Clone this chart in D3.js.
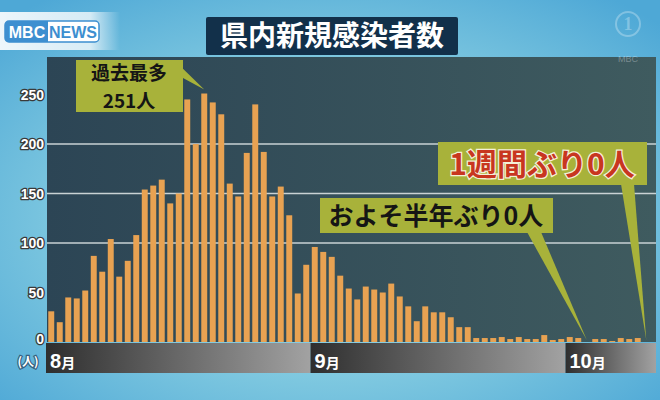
<!DOCTYPE html>
<html><head><meta charset="utf-8">
<script src="https://cdn.jsdelivr.net/npm/d3@7"></script>
<style>
html,body{margin:0;padding:0;background:#6cc0dc;}
svg{display:block;}
</style></head><body>
<svg id="c" width="660" height="400"></svg>
<script>
// ---- data ----
const monthNames = ["8", "9", "10"];
const monthLabels = ["8月", "9月", "10月"];
const augValues = [31,20,45,44,52,87,71,104,66,82,108,154,158,164,140,150,245,200,251,242,230,160,147,191,240,192,147,157,128,49,78];
const sepValues = [96,91,86,67,54,43,56,53,50,59,46,36,21,36,30,30,25,15,15,4,4,4,5,3,5,3,3,7,2,3];
const octValues = [5,4,0,3,3,1,4,3,4,0];
const yTicks = [0,50,100,150,200,250];
const gridTicks = [100,150,200];
const titleText = "県内新規感染者数";
const unitLabel = "(人)";
const peakLines = ["過去最多", "251人"];
const halfYearText = "およそ半年ぶり0人";
const weekText = "1週間ぶり0人";

const monthValues = [augValues, sepValues, octValues];
const days = [];
monthValues.forEach((vals, mi) => vals.forEach((v, i) => days.push({key: monthNames[mi] + "/" + (i + 1), month: mi, day: i + 1, value: v})));

// ---- layout ----
const svg = d3.select("#c");
const panel = {x0: 47, x1: 656, y0: 57, y1: 342};
const band = {y0: 343, y1: 373};

const x = d3.scaleBand().domain(days.map(d => d.key)).range([47, 650.5]).paddingInner(0.3).paddingOuter(0.15);
const y = d3.scaleLinear().domain([0, 250]).range([342, 94.5]);
const half = (x.step() - x.bandwidth()) / 2;

const defs = svg.append("defs");
const bg = defs.append("radialGradient").attr("id", "bg").attr("cx", "50%").attr("cy", "55%").attr("r", "70%");
bg.append("stop").attr("offset", "0%").attr("stop-color", "#9ad7e5");
bg.append("stop").attr("offset", "55%").attr("stop-color", "#80c9e0");
bg.append("stop").attr("offset", "100%").attr("stop-color", "#4ea8d6");
const pg = defs.append("linearGradient").attr("id", "pg").attr("x1", "0").attr("x2", "1");
pg.append("stop").attr("offset", "0%").attr("stop-color", "#2c4555");
pg.append("stop").attr("offset", "100%").attr("stop-color", "#3f5b5f");
const mg = defs.append("linearGradient").attr("id", "mg").attr("x1", "0").attr("x2", "1");
mg.append("stop").attr("offset", "0%").attr("stop-color", "#2e2e2e");
mg.append("stop").attr("offset", "100%").attr("stop-color", "#a2a2a2");
const lg = defs.append("linearGradient").attr("id", "lg").attr("x1", "0").attr("x2", "1");
lg.append("stop").attr("offset", "0%").attr("stop-color", "#ffffff").attr("stop-opacity", 0.9);
lg.append("stop").attr("offset", "75%").attr("stop-color", "#ffffff").attr("stop-opacity", 0.75);
lg.append("stop").attr("offset", "100%").attr("stop-color", "#ffffff").attr("stop-opacity", 0);

// background
svg.append("rect").attr("width", 660).attr("height", 400).attr("fill", "url(#bg)");

// panel
svg.append("rect").attr("x", panel.x0).attr("y", panel.y0).attr("width", panel.x1 - panel.x0).attr("height", panel.y1 - panel.y0).attr("fill", "url(#pg)");

// grid
svg.append("g").selectAll("line").data(gridTicks).join("line")
  .attr("x1", panel.x0).attr("x2", panel.x1)
  .attr("y1", d => y(d)).attr("y2", d => y(d))
  .attr("stroke", "#c9d2d4").attr("stroke-width", 1.6);

// bars
svg.append("g").selectAll("rect").data(days).join("rect")
  .attr("x", d => x(d.key)).attr("width", x.bandwidth())
  .attr("y", d => y(d.value)).attr("height", d => y(0) - y(d.value))
  .attr("fill", "#e8a252");

// month band
const starts = monthValues.map((vals, mi) => days.findIndex(d => d.month === mi));
const bands = starts.map((s, mi) => {
  const bx0 = mi === 0 ? panel.x0 - 1 : x(days[s].key) - half;
  const bx1 = mi < starts.length - 1 ? x(days[starts[mi + 1]].key) - half : panel.x1;
  return {x0: bx0, x1: bx1, label: monthLabels[mi]};
});
const mb = svg.append("g");
mb.selectAll("rect").data(bands).join("rect")
  .attr("x", d => d.x0).attr("width", d => d.x1 - d.x0)
  .attr("y", band.y0).attr("height", band.y1 - band.y0)
  .attr("fill", "url(#mg)");
const mt = mb.selectAll("text").data(bands).join("text")
  .attr("x", d => d.x0 + 4).attr("y", 368)
  .attr("fill", "#ffffff").attr("font-family", "'Liberation Sans', Arial, sans-serif").attr("font-weight", "bold");
mt.append("tspan").style("font-size", "20px").text(d => d.label.replace("月", ""));
mt.append("tspan").style("font-size", "14px").style("font-family", "'Noto Sans CJK JP', sans-serif").text("月");

// y axis
const yAxis = d3.axisLeft(y).tickValues(yTicks).tickSize(0).tickPadding(0);
const ya = svg.append("g").attr("transform", "translate(44,0)").call(yAxis);
ya.select(".domain").remove();
ya.selectAll("text")
  .attr("font-family", "'Liberation Sans Narrow', 'Liberation Sans', Arial, sans-serif")
  .attr("font-size", 14).attr("font-weight", "bold")
  .attr("fill", "#ffffff").attr("stroke", "#3a3a3a").attr("stroke-width", 2.6)
  .attr("paint-order", "stroke").attr("stroke-linejoin", "round")
  .attr("dy", "0.35em");
ya.selectAll(".tick").filter(d => d === 0).select("text").attr("dy", "0.1em");
svg.append("text").attr("x", 28).attr("y", 366).attr("text-anchor", "middle")
  .attr("font-family", "'Noto Sans CJK JP', sans-serif").attr("font-size", 12).attr("font-weight", "bold")
  .attr("fill", "#ffffff").attr("stroke", "#35607e").attr("stroke-width", 2.4).attr("paint-order", "stroke")
  .text(unitLabel);

// logo
svg.append("rect").attr("x", 0).attr("y", 12).attr("width", 120).attr("height", 38).attr("fill", "url(#lg)");
svg.append("rect").attr("x", 5).attr("y", 21).attr("width", 94).attr("height", 21).attr("rx", 4)
  .attr("fill", "#ffffff").attr("stroke", "#3d8fd0").attr("stroke-width", 1.5);
svg.append("path").attr("d", "M9,21 H48 V42 H9 Q5,42 5,38 V25 Q5,21 9,21 Z").attr("fill", "#3d8fd0");
svg.append("text").attr("x", 27).attr("y", 38).attr("text-anchor", "middle")
  .attr("font-family", "'Liberation Sans Narrow', 'Liberation Sans', Arial").attr("font-weight", "bold").attr("font-size", 16)
  .attr("fill", "#ffffff").text("MBC");
svg.append("text").attr("x", 73).attr("y", 38).attr("text-anchor", "middle")
  .attr("font-family", "'Liberation Sans Narrow', 'Liberation Sans', Arial").attr("font-weight", "bold").attr("font-size", 16)
  .attr("fill", "#3d8fd0").text("NEWS");

// watermark
svg.append("circle").attr("cx", 628).attr("cy", 24).attr("r", 12).attr("fill", "none").attr("stroke", "#ffffff").attr("stroke-opacity", 0.28).attr("stroke-width", 2);
svg.append("text").attr("x", 628).attr("y", 30).attr("text-anchor", "middle").attr("font-family", "'Liberation Serif', serif").attr("font-weight", "bold").attr("font-size", 18)
  .attr("fill", "#ffffff").attr("fill-opacity", 0.28).text("1");
svg.append("text").attr("x", 628).attr("y", 62).attr("text-anchor", "middle").attr("font-family", "'Liberation Sans', Arial").attr("font-size", 9)
  .attr("fill", "#ffffff").attr("fill-opacity", 0.3).text("MBC");

// title
svg.append("rect").attr("x", 206).attr("y", 17).attr("width", 252).attr("height", 38).attr("rx", 2).attr("fill", "#12304a");
svg.append("text").attr("x", 332).attr("y", 46).attr("text-anchor", "middle")
  .attr("font-family", "'Noto Sans CJK JP', sans-serif").attr("font-weight", "bold").attr("font-size", 28)
  .attr("fill", "#ffffff").text(titleText);

// annotations
const boxFill = "#a8b23a";
const cjk = "'Noto Sans CJK JP', sans-serif";
function cx(key) { return x(key) + x.bandwidth() / 2; }

// peak
const peak = days.reduce((a, b) => b.value > a.value ? b : a);
svg.append("polygon").attr("points", [[174, 60], [183, 60], [183, 78], [cx(peak.key), y(peak.value) - 4]].map(p => p.join(",")).join(" ")).attr("fill", boxFill);
svg.append("rect").attr("x", 76).attr("y", 60).attr("width", 107).attr("height", 52).attr("fill", boxFill);
svg.append("g").selectAll("text").data(peakLines).join("text")
  .attr("x", 129).attr("y", (d, i) => 80 + i * 28).attr("text-anchor", "middle")
  .attr("font-family", cjk).attr("font-weight", "bold").attr("font-size", 19)
  .attr("fill", "#151515")
  .text(d => d);

// half year zero
const zeroHalf = days.find(d => d.month === 2 && d.value === 0);
svg.append("polygon").attr("points", [[527, 232], [541, 232], [cx(zeroHalf.key), y(0) - 2]].map(p => p.join(",")).join(" ")).attr("fill", boxFill);
svg.append("rect").attr("x", 320).attr("y", 198).attr("width", 233).attr("height", 35).attr("fill", boxFill);
svg.append("text").attr("x", 436).attr("y", 225).attr("text-anchor", "middle")
  .attr("font-family", cjk).attr("font-weight", "bold").attr("font-size", 25)
  .attr("fill", "#151515").text(halfYearText);

// one week zero
const zeroWeek = days[days.length - 1];
svg.append("polygon").attr("points", [[621, 184], [634, 184], [cx(zeroWeek.key), y(0) - 2]].map(p => p.join(",")).join(" ")).attr("fill", boxFill);
svg.append("rect").attr("x", 438).attr("y", 142).attr("width", 209).attr("height", 43).attr("fill", boxFill);
svg.append("text").attr("x", 542).attr("y", 175).attr("text-anchor", "middle")
  .attr("font-family", cjk).attr("font-weight", "bold").attr("font-size", 30)
  .attr("fill", "#c8361f").attr("stroke", "#f4f0d8").attr("stroke-width", 2.5).attr("paint-order", "stroke")
  .text(weekText);
</script>
</body></html>
